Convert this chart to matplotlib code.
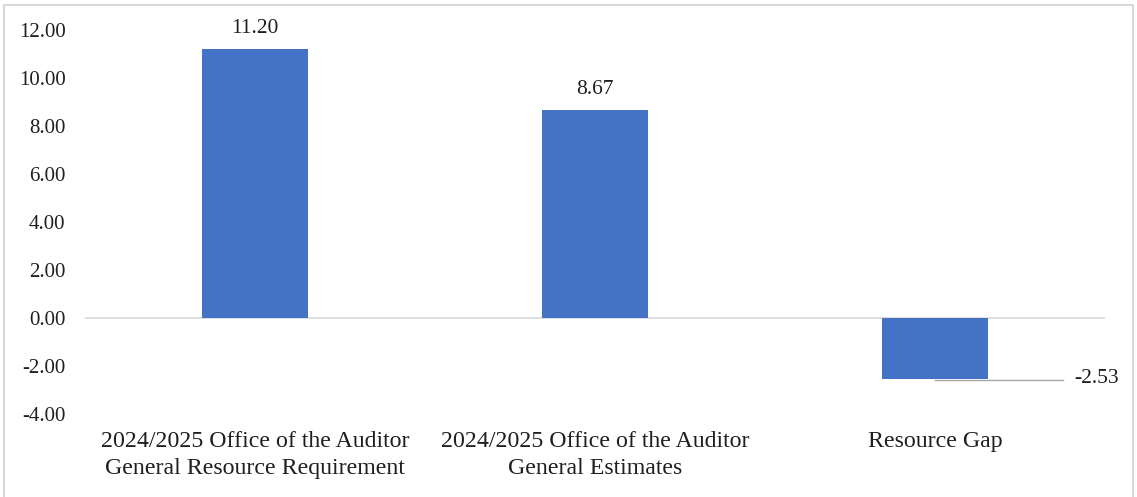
import numpy as np
import matplotlib
matplotlib.use("Agg")
import matplotlib.pyplot as plt
from matplotlib.patches import Rectangle

categories = ["2024/2025 Office of the Auditor\nGeneral Resource Requirement",
              "2024/2025 Office of the Auditor\nGeneral Estimates",
              "Resource Gap"]
values = [11.20, 8.67, -2.53]
yticks = [12, 10, 8, 6, 4, 2, 0, -2, -4]

plt.rcParams['font.family'] = ['Liberation Serif', 'DejaVu Serif']

fig = plt.figure(figsize=(11.37, 4.97), dpi=100)
ax = fig.add_axes([85 / 1137, 1 - 414 / 497, 1020 / 1137, 384 / 497])

x = np.arange(len(values))
ax.bar(x, values, width=0.31, color='#4472C4', zorder=2)
ax.axhline(0, color='#D9D9D9', lw=1.2, zorder=1)

ax.set_xlim(-0.5, 2.5)
ax.set_ylim(-4, 12)
ax.set_yticks(yticks)
ax.set_yticklabels([f'{v:.2f}' for v in yticks])
ax.set_xticks(x)
ax.set_xticklabels(categories, fontsize=17.2, color='#1f1f1f', linespacing=1.4)
ax.tick_params(axis='y', labelsize=15, colors='#1f1f1f', length=0, pad=14)
ax.tick_params(axis='x', length=0, pad=12)
for s in ax.spines.values():
    s.set_visible(False)

# data labels
for i, v in enumerate(values):
    if v >= 0:
        ax.annotate(f'{v:.2f}', (i, v), xytext=(0, 8), textcoords='offset points',
                    ha='center', va='bottom', fontsize=15.5, color='#1f1f1f')
    else:
        ax.annotate(f'{v:.2f}', (i, v), xytext=(i + 0.41, v), textcoords='data',
                    ha='left', va='center', fontsize=15.5, color='#1f1f1f')
        ax.plot([i, i + 0.375], [v - 0.05, v - 0.05], color='#A6A6A6', lw=1, zorder=3)

# light frame round the chart
fig.patches.append(Rectangle((4 / 1137, -0.05), 1129 / 1137, 1 - 5 / 497 + 0.05,
                             transform=fig.transFigure, fill=False,
                             edgecolor='#D9D9D9', lw=1.5))

fig.savefig('out.png', dpi=100)
